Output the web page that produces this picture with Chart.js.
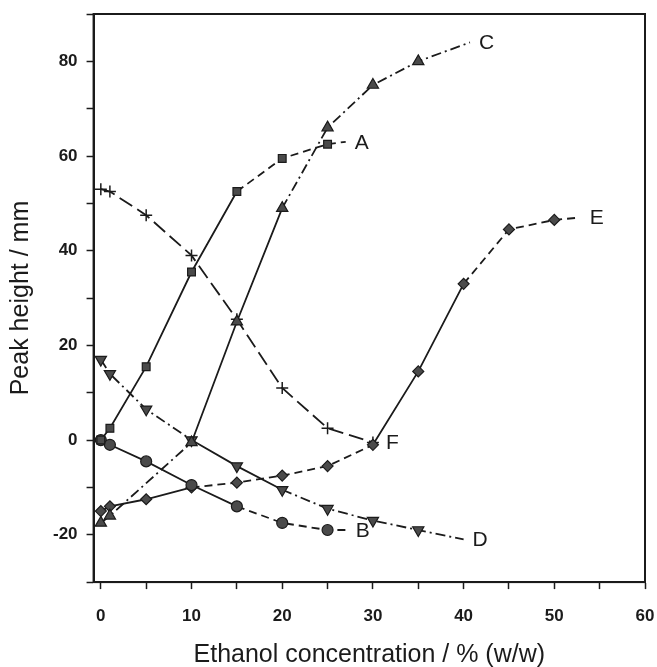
<!DOCTYPE html>
<html>
<head>
<meta charset="utf-8">
<script src="https://cdn.jsdelivr.net/npm/chart.js@4/dist/chart.umd.min.js"></script>
<style>
    html, body { margin: 0; padding: 0; background: #fff; }
    #wrap { width: 657px; height: 667px; }
</style>
</head>
<body>
<div id="wrap"><canvas id="peak_chart" width="657" height="667"></canvas></div>
<script>
// values (ethanol % w/w vs peak height mm)
const xA = [0, 1, 5, 10, 15, 20, 25, 27];
const yA = [0, 2.5, 15.5, 35.5, 52.5, 59.5, 62.5, 63];
const xB = [0, 1, 5, 10, 15, 20, 25, 27];
const yB = [0, -1, -4.5, -9.5, -14, -17.5, -19, -19];
const xC = [0, 1, 10, 15, 20, 25, 30, 35, 40.7];
const yC = [-17.5, -16, -0.5, 25, 49, 66, 75, 80, 84];
const xD = [0, 1, 5, 10, 15, 20, 25, 30, 35, 40];
const yD = [17, 14, 6.5, 0, -5.5, -10.5, -14.5, -17, -19, -21];
const xE = [0, 1, 5, 10, 15, 20, 25, 30, 35, 40, 45, 50, 52.8];
const yE = [-15, -14, -12.5, -10, -9, -7.5, -5.5, -1, 14.5, 33, 44.5, 46.5, 47];
const xF = [0, 1, 5, 10, 15, 20, 25, 30];
const yF = [53, 52.5, 47.5, 39, 25.5, 11, 2.5, -0.5];

const xTicks = [0, 10, 20, 30, 40, 50, 60];
const yTicks = [-20, 0, 20, 40, 60, 80];

const INK = "#1b1b1b";
const DASH = [8, 5];
const LONG_DASH = [15, 6];
const DASH_DOT = [10, 4, 2, 4];

const toPoints = (xs, ys) => xs.map((x, i) => ({ x: x, y: ys[i] }));

// letter next to the end of each curve
const curveLabels = {
    id: "curveLabels",
    afterDatasetsDraw(chart) {
        const ctx = chart.ctx;
        ctx.save();
        ctx.fillStyle = INK;
        ctx.font = "21px 'Liberation Sans', Arial, sans-serif";
        ctx.textAlign = "left";
        ctx.textBaseline = "middle";
        chart.data.datasets.forEach((ds, i) => {
            const meta = chart.getDatasetMeta(i);
            const last = meta.data[meta.data.length - 1];
            ctx.fillText(ds.label, last.x + (ds.labelGap || 9), last.y + 1);
        });
        ctx.restore();
    },
};

// closed frame around the plot
const frameBox = {
    id: "frameBox",
    afterDraw(chart) {
        const a = chart.chartArea;
        const ctx = chart.ctx;
        ctx.save();
        ctx.strokeStyle = INK;
        ctx.lineWidth = 2;
        ctx.strokeRect(a.left, a.top, a.right - a.left, a.bottom - a.top);
        ctx.restore();
    },
};

function series(label, xs, ys, style, segDash, extra) {
    const n = xs.length;
    return Object.assign({
        label: label,
        data: toPoints(xs, ys),
        borderColor: INK,
        borderWidth: 1.8,
        backgroundColor: "#4a4a4a",
        pointBorderColor: INK,
        pointBackgroundColor: "#4a4a4a",
        pointBorderWidth: 1.2,
        pointStyle: style,
        pointRadius: (c) => (c.dataset.tail && c.dataIndex === n - 1 ? 0 : 5.5),
        showLine: true,
        fill: false,
        tension: 0,
        segment: { borderDash: (c) => segDash(c.p0DataIndex) },
    }, extra || {});
}

var chartEl = document.getElementById("peak_chart");
if (chartEl != null) {
    var peakCtx = chartEl.getContext("2d");
    var peakChart = new Chart(peakCtx, {
        type: "scatter",
        data: {
            datasets: [
                series("A", xA, yA, "rect", (i) => (i < 4 ? [] : DASH), { tail: true }),
                series("B", xB, yB, "circle", (i) => (i < 4 ? [] : DASH), { tail: true, labelGap: 10 }),
                series("C", xC, yC, "triangle", (i) => (i === 2 || i === 3 ? [] : DASH_DOT), { tail: true, pointRadius: (c) => (c.dataIndex === xC.length - 1 ? 0 : 6.5) }),
                series("D", xD, yD, "triangle", (i) => (i === 3 || i === 4 ? [] : DASH_DOT), { tail: true, rotation: 180, pointRadius: (c) => (c.dataIndex === xD.length - 1 ? 0 : 6.5) }),
                series("E", xE, yE, "rectRot", (i) => (i < 3 || i === 7 || i === 8 ? [] : DASH), { tail: true, labelGap: 10 }),
                series("F", xF, yF, "cross", () => LONG_DASH, { labelGap: 13, pointRadius: 6, pointBorderWidth: 1.5 }),
            ],
        },
        options: {
            responsive: false,
            animation: false,
            layout: {
                padding: { left: 6, right: 12, top: 14, bottom: 1 },
            },
            plugins: {
                legend: { display: false },
                tooltip: { enabled: false },
            },
            scales: {
                x: {
                    type: "linear",
                    min: -0.8,
                    max: 60,
                    border: { display: true, color: INK, width: 2 },
                    grid: {
                        display: true,
                        drawOnChartArea: false,
                        drawTicks: true,
                        tickLength: 7,
                        tickWidth: 1.5,
                        color: INK,
                    },
                    afterBuildTicks: (axis) => {
                        axis.ticks = [];
                        for (let v = 0; v <= 60; v += 5) axis.ticks.push({ value: v });
                    },
                    afterFit: (axis) => {
                        axis.paddingLeft = 0;
                        axis.paddingRight = 0;
                    },
                    ticks: {
                        color: INK,
                        padding: 17,
                        autoSkip: false,
                        maxRotation: 0,
                        font: { family: "'Liberation Sans', Arial", size: 17, weight: "bold" },
                        callback: (v) => (xTicks.includes(v) ? String(v) : ""),
                    },
                    title: {
                        display: true,
                        text: "Ethanol concentration / % (w/w)",
                        color: INK,
                        padding: { top: 0, bottom: 0 },
                        font: { family: "'Liberation Sans', Arial", size: 25, lineHeight: 0.9 },
                    },
                },
                y: {
                    type: "linear",
                    min: -30,
                    max: 90,
                    border: { display: true, color: INK, width: 2 },
                    grid: {
                        display: true,
                        drawOnChartArea: false,
                        drawTicks: true,
                        tickLength: 7,
                        tickWidth: 1.5,
                        color: INK,
                    },
                    afterBuildTicks: (axis) => {
                        axis.ticks = [];
                        for (let v = -30; v <= 90; v += 10) axis.ticks.push({ value: v });
                    },
                    afterFit: (axis) => {
                        axis.paddingTop = 0;
                        axis.paddingBottom = 0;
                    },
                    ticks: {
                        color: INK,
                        padding: 9,
                        autoSkip: false,
                        font: { family: "'Liberation Sans', Arial", size: 17, weight: "bold" },
                        callback: (v) => (yTicks.includes(v) ? String(v) : ""),
                    },
                    title: {
                        display: true,
                        text: "Peak height / mm",
                        color: INK,
                        padding: { top: 0, bottom: 8 },
                        font: { family: "'Liberation Sans', Arial", size: 25 },
                    },
                },
            },
        },
        plugins: [curveLabels, frameBox],
    });
}
</script>
</body>
</html>
